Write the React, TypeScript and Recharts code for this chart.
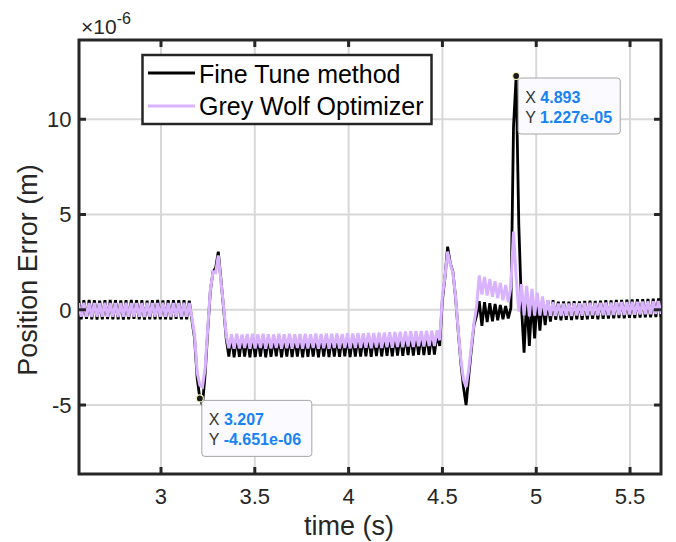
import React from 'react';
import { LineChart, Line, XAxis, YAxis, CartesianGrid, ReferenceDot, ReferenceArea, ReferenceLine } from 'recharts';

// sampling of the recorded signals (s)
const T0 = 2.5607;
const DT = 0.01405;

const T_MIN = 2.563;
const T_MAX = 5.665;
const Y_MIN = -8.62;
const Y_MAX = 14.16;

const xTicks = [3, 3.5, 4, 4.5, 5, 5.5];
const yTicks = [-5, 0, 5, 10];
const yExponent = -6;

const seriesNames = ['Fine Tune method', 'Grey Wolf Optimizer'];

// position error, in units of 1e-6 m
const fineTune = [
  0.48, -0.5, 0.5, -0.48, 0.52, -0.5, 0.5, -0.52, 0.48, -0.5,
  0.5, -0.49, 0.52, -0.5, 0.5, -0.5, 0.49, -0.52, 0.5, -0.5,
  0.52, -0.48, 0.5, -0.5, 0.5, -0.52, 0.48, -0.5, 0.5, -0.5,
  0.52, -0.5, 0.49, -0.5, 0.5, -0.52, 0.5, -0.48, 0.5, -0.5,
  0.5, -0.5, 0.48, -0.55,
  -1.5, -3.6, -4.651, -5.0, -3.4, -1.1, 1.0, 2.0, 2.2, 3.05, 1.6, 0.1, -1.5,
  -2.45, -1.42, -2.5, -1.4, -2.47, -1.45, -2.45, -1.42, -2.5, -1.4,
  -2.48, -1.44, -2.45, -1.4, -2.5, -1.42, -2.47, -1.45, -2.44, -1.4,
  -2.5, -1.42, -2.46, -1.4, -2.48, -1.44, -2.45, -1.42, -2.5, -1.4,
  -2.47, -1.43, -2.45, -1.4, -2.49, -1.42, -2.46, -1.4, -2.48, -1.41,
  -2.45, -1.4, -2.47, -1.43, -2.44, -1.38, -2.48, -1.4, -2.45, -1.38,
  -2.46, -1.4, -2.44, -1.36, -2.47, -1.38, -2.43, -1.35, -2.45, -1.36,
  -2.42, -1.34, -2.44, -1.33, -2.4, -1.32, -2.42, -1.3, -2.38, -1.3,
  -2.4, -1.28, -2.37, -1.28, -2.38, -1.26, -2.36, -1.27, -2.35, -1.25,
  -1.9, 0.5, 1.7, 3.31, 2.45, 2.0, 0.65, -1.1, -2.75, -4.05, -5.0, -3.5, -2.1, -0.8, -0.3,
  0.45, -0.85, 0.4, -0.65, 0.35, -0.6, 0.3, -0.55, 0.25, -0.5, 0.2, -0.45, 0.1,
  9.6, 12.27, 4.5, 0.2, -2.25, 0.6, -1.9, 0.6, -1.5, 0.55, -1.1, 0.5, -0.8, 0.5, -0.62, 0.5, -0.52,
  0.42, -0.55, 0.44, -0.52, 0.43, -0.54, 0.45, -0.5, 0.44, -0.52,
  0.46, -0.5, 0.47, -0.48, 0.46, -0.5, 0.48, -0.47, 0.5, -0.46,
  0.49, -0.45, 0.51, -0.44, 0.52, -0.45, 0.53, -0.42, 0.54, -0.43,
  0.55, -0.41, 0.56, -0.4, 0.57, -0.4, 0.58, -0.38, 0.6, -0.38,
];

const greyWolf = [
  0.35, -0.37, 0.37, -0.36, 0.36, -0.38, 0.36, -0.37, 0.35, -0.36,
  0.37, -0.37, 0.36, -0.36, 0.36, -0.38, 0.35, -0.37, 0.37, -0.36,
  0.36, -0.37, 0.36, -0.37, 0.35, -0.38, 0.37, -0.36, 0.36, -0.37,
  0.36, -0.36, 0.37, -0.37, 0.35, -0.38, 0.36, -0.36, 0.36, -0.37,
  0.37, -0.37, 0.35, -0.42,
  -1.35, -3.3, -3.95, -4.05, -3.1, -0.95, 1.05, 2.0, 1.95, 2.85, 1.5, 0.2, -1.35,
  -2.02, -1.28, -2.05, -1.26, -2.03, -1.3, -2.0, -1.27, -2.05, -1.26,
  -2.03, -1.29, -2.01, -1.26, -2.05, -1.28, -2.03, -1.3, -2.0, -1.26,
  -2.05, -1.28, -2.02, -1.26, -2.04, -1.29, -2.01, -1.27, -2.05, -1.26,
  -2.03, -1.28, -2.01, -1.25, -2.04, -1.27, -2.02, -1.25, -2.04, -1.26,
  -2.01, -1.25, -2.03, -1.27, -2.0, -1.23, -2.03, -1.25, -2.0, -1.22,
  -2.01, -1.24, -1.99, -1.2, -2.02, -1.22, -1.98, -1.19, -2.0, -1.2,
  -1.97, -1.18, -1.99, -1.16, -1.95, -1.15, -1.97, -1.14, -1.93, -1.13,
  -1.95, -1.12, -1.92, -1.11, -1.93, -1.1, -1.9, -1.1, -1.9, -1.08,
  -1.6, 0.7, 1.75, 3.05, 2.4, 1.95, 0.7, -1.05, -2.6, -3.65, -4.05, -3.15, -1.9, -0.7, 0.2,
  1.8, 0.8, 1.72, 0.75, 1.6, 0.68, 1.5, 0.6, 1.4, 0.5, 1.3, 0.4, 1.2,
  4.1, 1.7, -0.1, 1.35, -0.3, 1.25, -0.35, 1.1, -0.3, 0.9, -0.3, 0.7, -0.3, 0.5, -0.32, 0.4, -0.32,
  0.32, -0.32, 0.33, -0.31, 0.33, -0.32, 0.34, -0.3, 0.34, -0.31,
  0.35, -0.3, 0.36, -0.29, 0.35, -0.3, 0.37, -0.28, 0.38, -0.28,
  0.38, -0.27, 0.39, -0.27, 0.4, -0.27, 0.41, -0.25, 0.42, -0.26,
  0.42, -0.24, 0.43, -0.23, 0.44, -0.23, 0.45, -0.22, 0.46, -0.22,
];

// sample indices that carry a data tip
const tipIndex = [46, 166];

const time = fineTune.map((_, i) => +(T0 + i * DT).toFixed(4));
const data = time.map((t, i) => ({ t, fine: fineTune[i], gwo: greyWolf[i] }));

const W = 676;
const H = 542;
const margin = { top: 40, right: 15, bottom: 0, left: 0 };
const X_AXIS_H = 68;
const Y_AXIS_W = 79;
const PLOT_W = W - margin.left - margin.right - Y_AXIS_W;
const PLOT_H = H - margin.top - margin.bottom - X_AXIS_H;

// inward tick marks, 7px long, expressed in data units
const TICK_PX = 7;
const xTickLen = (TICK_PX * (T_MAX - T_MIN)) / PLOT_W;
const yTickLen = (TICK_PX * (Y_MAX - Y_MIN)) / PLOT_H;

const FONT = "Arial, 'Liberation Sans', Helvetica, sans-serif";
const AX = '#262626';
const PURPLE = '#d9b3ff';

const sci = (v: number) =>
  (v * Math.pow(10, yExponent))
    .toExponential(3)
    .replace(/e([+-])(\d)$/, (_m, s, d) => 'e' + s + '0' + d);

const DataTip = ({ cx, cy, tx, ty }: any) => {
  const xs = tx.toFixed(3);
  const ys = sci(ty);
  const w = 31 + ys.length * 7.9;
  return (
    <g>
      <rect x={cx + 2} y={cy + 2} width={w} height={56} rx={3} fill="#fafaff" stroke="#a6a6a6" strokeWidth={1} />
      <text x={cx + 9} y={cy + 26.5} fontSize={16} fontFamily={FONT} fill="#333">
        X <tspan fontWeight="bold" fill="#1683f5">{xs}</tspan>
      </text>
      <text x={cx + 9} y={cy + 46.5} fontSize={16} fontFamily={FONT} fill="#333">
        Y <tspan fontWeight="bold" fill="#1683f5">{ys}</tspan>
      </text>
      <circle cx={cx} cy={cy} r={3.5} fill="#1a1a1a" stroke="#f3f3c4" strokeWidth={1.2} />
    </g>
  );
};

const XLabel = (props: any) => {
  const vb = props.viewBox;
  return (
    <text x={vb.x + vb.width / 2 - 21} y={vb.y + 61} textAnchor="middle" fontSize={27} fontFamily={FONT} fill={AX}>
      time (s)
    </text>
  );
};

const YLabel = (props: any) => {
  const vb = props.viewBox;
  const cx = 37;
  const cy = vb.y + vb.height / 2 + 13;
  return (
    <text x={cx} y={cy} transform={`rotate(-90 ${cx} ${cy})`} textAnchor="middle" fontSize={27} fontFamily={FONT} fill={AX}>
      Position Error (m)
    </text>
  );
};

const tickStyle = { fill: AX, fontSize: 22, fontFamily: FONT };
const tickProps = { stroke: AX, strokeWidth: 3, ifOverflow: 'visible' as const };

export default function App() {
  return (
    <div style={{ position: 'absolute', left: 0, top: 0, width: W, height: H, background: '#fff' }}>
      <LineChart width={W} height={H} data={data} margin={margin}>
        <CartesianGrid stroke="#d8d8d8" strokeWidth={2} />
        <XAxis
          type="number"
          dataKey="t"
          domain={[T_MIN, T_MAX]}
          allowDataOverflow
          ticks={xTicks}
          interval={0}
          height={X_AXIS_H}
          tickSize={0}
          tickMargin={14}
          tickLine={false}
          axisLine={false}
          tick={tickStyle}
          label={XLabel}
        />
        <YAxis
          type="number"
          domain={[Y_MIN, Y_MAX]}
          allowDataOverflow
          ticks={yTicks}
          interval={0}
          width={Y_AXIS_W}
          tickSize={0}
          tickMargin={7.5}
          tickLine={false}
          axisLine={false}
          tick={tickStyle}
          label={YLabel}
        />
        <Line type="linear" dataKey="fine" name={seriesNames[0]} stroke="#000" strokeWidth={2.8} dot={false} isAnimationActive={false} />
        <Line type="linear" dataKey="gwo" name={seriesNames[1]} stroke={PURPLE} strokeWidth={3} dot={false} isAnimationActive={false} />
        {xTicks.map((v) => (
          <ReferenceLine key={'b' + v} segment={[{ x: v, y: Y_MIN }, { x: v, y: Y_MIN + yTickLen }]} {...tickProps} />
        ))}
        {xTicks.map((v) => (
          <ReferenceLine key={'t' + v} segment={[{ x: v, y: Y_MAX }, { x: v, y: Y_MAX - yTickLen }]} {...tickProps} />
        ))}
        {yTicks.map((v) => (
          <ReferenceLine key={'l' + v} segment={[{ x: T_MIN, y: v }, { x: T_MIN + xTickLen, y: v }]} {...tickProps} />
        ))}
        {yTicks.map((v) => (
          <ReferenceLine key={'r' + v} segment={[{ x: T_MAX, y: v }, { x: T_MAX - xTickLen, y: v }]} {...tickProps} />
        ))}
        <ReferenceArea
          x1={T_MIN}
          x2={T_MAX}
          y1={Y_MIN}
          y2={Y_MAX}
          fill="none"
          stroke={AX}
          strokeWidth={3}
          ifOverflow="visible"
        />
        {tipIndex.map((i) => (
          <ReferenceDot
            key={i}
            x={time[i]}
            y={fineTune[i]}
            r={3.5}
            shape={(p: any) => <DataTip cx={p.cx} cy={p.cy} tx={time[i]} ty={fineTune[i]} />}
          />
        ))}
      </LineChart>
      <svg width={W} height={H} style={{ position: 'absolute', left: 0, top: 0, pointerEvents: 'none' }}>
        <text x={81} y={34} fontSize={21} fontFamily={FONT} fill={AX}>
          ×10<tspan dy={-10} fontSize={16}>{String(yExponent)}</tspan>
        </text>
        <rect x={142.5} y={55} width={289} height={69} fill="#fff" stroke={AX} strokeWidth={2.5} />
        <line x1={148} x2={195} y1={73} y2={73} stroke="#000" strokeWidth={3} />
        <line x1={148} x2={195} y1={106} y2={106} stroke={PURPLE} strokeWidth={3} />
        <text x={199} y={83} fontSize={25} fontFamily={FONT} fill="#000">{seriesNames[0]}</text>
        <text x={199} y={115} fontSize={25} fontFamily={FONT} fill="#000">{seriesNames[1]}</text>
      </svg>
    </div>
  );
}
